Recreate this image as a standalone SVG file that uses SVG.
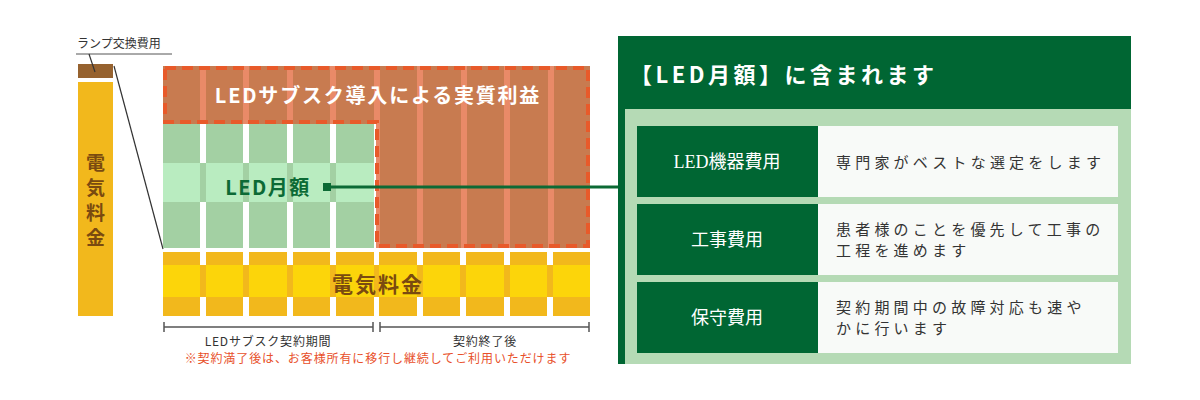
<svg xmlns="http://www.w3.org/2000/svg" width="1200" height="400" viewBox="0 0 1200 400">
<style>
.jp{font-family:"Noto Sans CJK JP","Noto Sans",sans-serif}
.sf{font-family:"Liberation Serif","Noto Sans CJK JP",serif}
.lbl{fill:#fff;font-size:18px;text-anchor:middle}
.desc{fill:#333;font-size:15px;letter-spacing:4.2px}
.v{font-size:19px;font-weight:bold;fill:#7a4a10;text-anchor:middle}
</style>
<rect width="1200" height="400" fill="#fff"/>
<g id="left-bar">
<rect x="78" y="64" width="35" height="14" fill="#96622f"/>
<rect x="78" y="82" width="35" height="234" fill="#f2b81c"/>
<text class="jp v" x="95.5" y="170">電</text>
<text class="jp v" x="95.5" y="195">気</text>
<text class="jp v" x="95.5" y="220">料</text>
<text class="jp v" x="95.5" y="245">金</text>
<text class="jp" x="77" y="48" font-size="12" fill="#333">ランプ交換費用</text>
<line x1="76" y1="54" x2="172" y2="54" stroke="#555" stroke-width="1"/>
<line x1="89" y1="54" x2="95" y2="72" stroke="#333" stroke-width="1.2"/>
<line x1="114" y1="66" x2="163" y2="249" stroke="#333" stroke-width="1.2"/>
</g>
<g id="profit">
<rect x="163" y="66" width="427" height="182" fill="#c87b50"/>
<g fill="#e98a68">
<rect x="200" y="66" width="6" height="182"/><rect x="243" y="66" width="6" height="182"/><rect x="287" y="66" width="6" height="182"/><rect x="330" y="66" width="6" height="182"/><rect x="374" y="66" width="6" height="182"/><rect x="417" y="66" width="6" height="182"/><rect x="461" y="66" width="6" height="182"/><rect x="504" y="66" width="6" height="182"/><rect x="548" y="66" width="6" height="182"/>
</g>
</g>
<g id="led-monthly">
<rect x="163" y="124" width="213" height="124" fill="#fff"/>
<g fill="#a3d0a3">
<rect x="163" y="124" width="37" height="124"/><rect x="206" y="124" width="37" height="124"/><rect x="249" y="124" width="38" height="124"/><rect x="293" y="124" width="37" height="124"/><rect x="336" y="124" width="38" height="124"/>
<rect x="163" y="163" width="211" height="39"/>
</g>
<g fill="#b9ecc0">
<rect x="163" y="163" width="37" height="39"/><rect x="206" y="163" width="37" height="39"/><rect x="249" y="163" width="38" height="39"/><rect x="293" y="163" width="37" height="39"/><rect x="336" y="163" width="38" height="39"/>
</g>
<text class="jp" x="268" y="195" font-size="20" font-weight="bold" fill="#0c6a35" text-anchor="middle" letter-spacing="1.5">LED月額</text>
</g>
<path d="M165 68 H588 V246 H377 V122 H165 Z" fill="none" stroke="#e85a2a" stroke-width="4" stroke-dasharray="11 6"/>
<text class="jp" x="378" y="103" font-size="20" font-weight="bold" fill="#fff" text-anchor="middle" letter-spacing="1.8">LEDサブスク導入による実質利益</text>
<g id="electricity">
<rect x="163" y="252" width="427" height="64" fill="#fff"/>
<g fill="#f2b81c">
<rect x="163" y="252" width="37" height="64"/><rect x="206" y="252" width="37" height="64"/><rect x="249" y="252" width="38" height="64"/><rect x="293" y="252" width="37" height="64"/><rect x="336" y="252" width="38" height="64"/><rect x="379" y="252" width="38" height="64"/><rect x="423" y="252" width="37" height="64"/><rect x="466" y="252" width="38" height="64"/><rect x="510" y="252" width="37" height="64"/><rect x="553" y="252" width="37" height="64"/>
<rect x="163" y="265" width="427" height="32"/>
</g>
<g fill="#fcd50a">
<rect x="163" y="265" width="37" height="32"/><rect x="206" y="265" width="37" height="32"/><rect x="249" y="265" width="38" height="32"/><rect x="293" y="265" width="37" height="32"/><rect x="336" y="265" width="38" height="32"/><rect x="379" y="265" width="38" height="32"/><rect x="423" y="265" width="37" height="32"/><rect x="466" y="265" width="38" height="32"/><rect x="510" y="265" width="37" height="32"/><rect x="553" y="265" width="37" height="32"/>
</g>
<text class="jp" x="378" y="292" font-size="21" font-weight="bold" fill="#7a4a10" text-anchor="middle" letter-spacing="2">電気料金</text>
</g>
<g id="period" stroke="#555" stroke-width="1.5">
<line x1="164" y1="327" x2="373" y2="327"/><line x1="164" y1="322" x2="164" y2="332"/><line x1="373" y1="322" x2="373" y2="332"/>
<line x1="380" y1="327" x2="589" y2="327"/><line x1="380" y1="322" x2="380" y2="332"/><line x1="589" y1="322" x2="589" y2="332"/>
</g>
<text class="jp" x="268" y="346" font-size="12" fill="#333" text-anchor="middle" letter-spacing="0.8">LEDサブスク契約期間</text>
<text class="jp" x="485" y="346" font-size="12" fill="#333" text-anchor="middle" letter-spacing="0.8">契約終了後</text>
<text class="jp" x="378" y="363" font-size="12" fill="#e8502a" text-anchor="middle" letter-spacing="0.9">※契約満了後は、お客様所有に移行し継続してご利用いただけます</text>
<g id="connectors">
<rect x="323" y="183" width="8" height="8" fill="#0c6a35"/>
<line x1="327" y1="187" x2="620" y2="187" stroke="#0c6a35" stroke-width="3"/>
</g>
<g id="panel">
<rect x="618" y="36" width="513" height="328" fill="#006633"/>
<rect x="625" y="109" width="506" height="255" fill="#b5dab5"/>
<text class="jp" x="630" y="83" font-size="22" font-weight="bold" fill="#fff" letter-spacing="3.5">【LED月額】に含まれます</text>
</g>
<g id="row1">
<rect x="637" y="126" width="181" height="71" fill="#006633"/>
<rect x="818" y="126" width="300" height="71" fill="#f8faf8"/>
<text class="sf lbl" x="727" y="168">LED機器費用</text>
<text class="jp desc" x="836" y="168">専門家がベストな選定をします</text>
</g>
<g id="row2">
<rect x="637" y="204" width="181" height="71" fill="#006633"/>
<rect x="818" y="204" width="300" height="71" fill="#f8faf8"/>
<text class="sf lbl" x="727" y="246">工事費用</text>
<text class="jp desc" x="836" y="235">患者様のことを優先して工事の</text>
<text class="jp desc" x="836" y="256">工程を進めます</text>
</g>
<g id="row3">
<rect x="637" y="282" width="181" height="71" fill="#006633"/>
<rect x="818" y="282" width="300" height="71" fill="#f8faf8"/>
<text class="sf lbl" x="727" y="324">保守費用</text>
<text class="jp desc" x="836" y="313">契約期間中の故障対応も速や</text>
<text class="jp desc" x="836" y="334">かに行います</text>
</g>
</svg>
